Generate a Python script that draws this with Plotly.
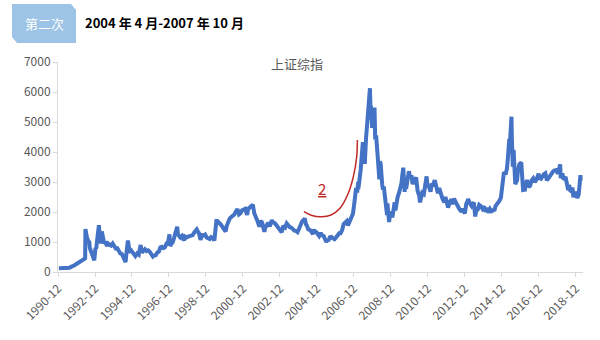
import plotly.graph_objects as go

# Shanghai Composite (上证综指) closing levels, irregularly sampled
dates = [
    "1990-12-19", "1991-01-15", "1991-02-15", "1991-03-15", "1991-04-15", "1991-05-15", "1991-06-15",
    "1991-07-15", "1991-08-15", "1991-09-15", "1991-10-15", "1991-11-15", "1991-12-15",
    "1992-01-15", "1992-02-15", "1992-03-15", "1992-04-15", "1992-05-20", "1992-05-26", "1992-06-10",
    "1992-06-25", "1992-07-15", "1992-08-10", "1992-08-20", "1992-09-15", "1992-10-15", "1992-11-17",
    "1992-12-10", "1992-12-25", "1993-01-15", "1993-02-16", "1993-03-05", "1993-03-31", "1993-04-15",
    "1993-05-05", "1993-05-31", "1993-06-15", "1993-07-10", "1993-07-31", "1993-08-15", "1993-09-15",
    "1993-10-15", "1993-11-15", "1993-12-15", "1994-01-15", "1994-02-15", "1994-03-15", "1994-04-15",
    "1994-05-15", "1994-06-15", "1994-07-29", "1994-08-15", "1994-09-13", "1994-10-05", "1994-10-25",
    "1994-11-15", "1994-12-15", "1995-01-15", "1995-02-07", "1995-03-15", "1995-04-15", "1995-05-22",
    "1995-06-15", "1995-07-15", "1995-08-15", "1995-09-15", "1995-10-15", "1995-11-15", "1995-12-15",
    "1996-01-19", "1996-02-15", "1996-03-15", "1996-04-15", "1996-05-15", "1996-06-15", "1996-07-15",
    "1996-08-15", "1996-09-15", "1996-10-15", "1996-11-15", "1996-12-11", "1996-12-24", "1997-01-15",
    "1997-02-15", "1997-03-15", "1997-04-15", "1997-05-12", "1997-05-30", "1997-06-15", "1997-07-15",
    "1997-08-15", "1997-09-23", "1997-10-15", "1997-11-15", "1997-12-15", "1998-01-15", "1998-02-15",
    "1998-03-15", "1998-04-15", "1998-06-03", "1998-06-30", "1998-07-15", "1998-08-17", "1998-09-15",
    "1998-10-15", "1998-11-15", "1998-12-15", "1999-01-15", "1999-02-15", "1999-03-15", "1999-04-15",
    "1999-05-17", "1999-05-31", "1999-06-30", "1999-07-15", "1999-08-15", "1999-09-15", "1999-10-15",
    "1999-11-15", "1999-12-27", "2000-01-15", "2000-02-15", "2000-03-15", "2000-04-15", "2000-05-15",
    "2000-06-15", "2000-07-15", "2000-08-15", "2000-09-15", "2000-10-15", "2000-11-15", "2000-12-15",
    "2001-01-15", "2001-02-22", "2001-03-15", "2001-04-15", "2001-05-15", "2001-06-14", "2001-07-15",
    "2001-08-15", "2001-09-15", "2001-10-22", "2001-11-15", "2001-12-15", "2002-01-29", "2002-02-15",
    "2002-03-15", "2002-04-15", "2002-05-15", "2002-06-25", "2002-07-15", "2002-08-15", "2002-09-15",
    "2002-10-15", "2002-11-15", "2002-12-15", "2003-01-06", "2003-01-31", "2003-02-15", "2003-03-15",
    "2003-04-15", "2003-05-15", "2003-06-15", "2003-07-15", "2003-08-15", "2003-09-15", "2003-10-15",
    "2003-11-15", "2003-12-15", "2004-01-15", "2004-02-15", "2004-03-15", "2004-04-07", "2004-04-30",
    "2004-05-15", "2004-06-15", "2004-07-15", "2004-08-15", "2004-09-13", "2004-09-28", "2004-10-15",
    "2004-11-15", "2004-12-15", "2005-01-15", "2005-02-15", "2005-03-15", "2005-04-15", "2005-05-15",
    "2005-06-06", "2005-06-30", "2005-07-15", "2005-08-15", "2005-09-15", "2005-10-15", "2005-11-15",
    "2005-12-15", "2006-01-15", "2006-02-15", "2006-03-15", "2006-04-15", "2006-05-15", "2006-06-15",
    "2006-07-15", "2006-08-08", "2006-08-31", "2006-09-15", "2006-10-15", "2006-11-15", "2006-12-15",
    "2006-12-31", "2007-01-15", "2007-02-05", "2007-02-26", "2007-02-27", "2007-03-15", "2007-04-15",
    "2007-05-29", "2007-06-05", "2007-06-20", "2007-07-06", "2007-07-31", "2007-08-15", "2007-08-31",
    "2007-09-15", "2007-09-28", "2007-10-16", "2007-10-25", "2007-11-05", "2007-11-28", "2007-12-15",
    "2008-01-14", "2008-01-28", "2008-02-15", "2008-03-15", "2008-04-18", "2008-04-30", "2008-05-15",
    "2008-06-15", "2008-06-30", "2008-07-15", "2008-08-15", "2008-09-18", "2008-09-26", "2008-10-15",
    "2008-10-28", "2008-11-15", "2008-12-15", "2008-12-31", "2009-01-15", "2009-02-15", "2009-03-03",
    "2009-03-31", "2009-04-15", "2009-05-15", "2009-06-15", "2009-06-30", "2009-07-15", "2009-08-04",
    "2009-08-31", "2009-09-15", "2009-09-30", "2009-10-15", "2009-11-24", "2009-12-15", "2010-01-15",
    "2010-02-03", "2010-03-15", "2010-04-15", "2010-05-15", "2010-06-15", "2010-07-02", "2010-07-30",
    "2010-08-15", "2010-09-15", "2010-10-15", "2010-11-08", "2010-11-30", "2010-12-15", "2010-12-31",
    "2011-01-25", "2011-02-15", "2011-03-15", "2011-04-18", "2011-05-15", "2011-06-20", "2011-07-15",
    "2011-08-15", "2011-09-15", "2011-10-24", "2011-11-15", "2011-12-31", "2012-01-06", "2012-02-15",
    "2012-03-15", "2012-03-29", "2012-05-04", "2012-06-15", "2012-07-15", "2012-08-15", "2012-09-26",
    "2012-10-15", "2012-12-03", "2012-12-31", "2013-01-31", "2013-02-06", "2013-03-15", "2013-04-15",
    "2013-05-29", "2013-06-25", "2013-07-15", "2013-08-15", "2013-09-12", "2013-10-15", "2013-11-15",
    "2013-12-15", "2014-01-15", "2014-02-15", "2014-03-12", "2014-04-15", "2014-05-15", "2014-06-15",
    "2014-07-15", "2014-07-31", "2014-08-15", "2014-09-15", "2014-10-15", "2014-11-15", "2014-12-15",
    "2014-12-31", "2015-01-15", "2015-02-15", "2015-03-15", "2015-03-31", "2015-04-15", "2015-04-30",
    "2015-05-07", "2015-05-28", "2015-06-12", "2015-06-19", "2015-06-26", "2015-07-08", "2015-07-24",
    "2015-07-31", "2015-08-18", "2015-08-26", "2015-09-15", "2015-09-30", "2015-10-15", "2015-11-15",
    "2015-12-22", "2016-01-07", "2016-01-27", "2016-02-15", "2016-02-29", "2016-03-15", "2016-04-15",
    "2016-05-15", "2016-06-15", "2016-07-15", "2016-08-15", "2016-09-15", "2016-10-15", "2016-11-29",
    "2016-12-15", "2017-01-15", "2017-02-15", "2017-03-15", "2017-04-11", "2017-05-11", "2017-06-15",
    "2017-07-15", "2017-08-15", "2017-09-15", "2017-10-15", "2017-11-15", "2017-12-15", "2018-01-29",
    "2018-02-09", "2018-02-28", "2018-03-15", "2018-03-26", "2018-04-15", "2018-05-15", "2018-06-20",
    "2018-07-06", "2018-07-25", "2018-08-15", "2018-09-15", "2018-09-28", "2018-10-18", "2018-11-15",
    "2018-12-15", "2019-01-03", "2019-01-31", "2019-02-25", "2019-03-05", "2019-03-10",
]
close = [
    127, 130, 133, 125, 112, 110, 120,
    140, 170, 185, 215, 250, 285,
    300, 340, 370, 420, 450, 1429, 1200,
    1150, 1050, 1000, 800, 700, 600, 390,
    800, 780, 1100, 1558, 1200, 950, 1350,
    1100, 950, 1000, 900, 870, 950, 900,
    880, 950, 860, 780, 790, 700, 620,
    600, 500, 330, 650, 1052, 800, 700,
    720, 650, 580, 530, 620, 580, 900,
    650, 700, 760, 700, 720, 680, 580,
    515, 550, 560, 650, 680, 820, 840,
    800, 830, 950, 1000, 1258, 870, 930,
    1000, 1150, 1330, 1510, 1250, 1200, 1150,
    1200, 1050, 1180, 1150, 1180, 1200, 1190,
    1230, 1320, 1420, 1330, 1300, 1070, 1230,
    1220, 1250, 1150, 1130, 1100, 1160, 1130,
    1050, 1280, 1756, 1620, 1650, 1600, 1520,
    1470, 1350, 1530, 1700, 1780, 1830, 1880,
    1920, 2020, 2100, 1920, 1960, 2060, 2080,
    2110, 1900, 2100, 2150, 2210, 2245, 1950,
    1850, 1700, 1514, 1700, 1650, 1340, 1480,
    1580, 1640, 1520, 1730, 1650, 1640, 1580,
    1510, 1440, 1360, 1320, 1500, 1510, 1480,
    1620, 1560, 1490, 1480, 1420, 1380, 1370,
    1330, 1440, 1580, 1690, 1740, 1783, 1590,
    1560, 1420, 1400, 1340, 1260, 1420, 1350,
    1340, 1280, 1200, 1300, 1220, 1200, 1080,
    998, 1080, 1030, 1160, 1170, 1120, 1090,
    1150, 1220, 1290, 1290, 1400, 1600, 1650,
    1700, 1550, 1660, 1720, 1820, 1950, 2350,
    2675, 2800, 2650, 3000, 2770, 2950, 3400,
    4330, 3670, 4300, 3600, 4470, 4800, 5220,
    5300, 5550, 6124, 5560, 5500, 4800, 5100,
    5480, 4420, 4550, 3900, 3090, 3690, 3600,
    2900, 2740, 2850, 2430, 1900, 2290, 1990,
    1664, 1900, 2000, 1820, 1950, 2320, 2050,
    2370, 2500, 2650, 2850, 2960, 3200, 3478,
    2670, 2950, 2780, 3000, 3360, 3150, 3220,
    2930, 3050, 3150, 2700, 2550, 2320, 2640,
    2640, 2600, 2970, 3186, 2820, 2900, 2810,
    2680, 2900, 2900, 3060, 2860, 2620, 2800,
    2600, 2460, 2320, 2500, 2200, 2150, 2350,
    2420, 2260, 2450, 2300, 2170, 2100, 2005,
    2110, 1950, 2270, 2390, 2430, 2280, 2200,
    2320, 1850, 2040, 2080, 2240, 2200, 2110,
    2190, 2010, 2140, 1975, 2100, 2030, 2070,
    2080, 2200, 2230, 2340, 2370, 2480, 2950,
    3230, 3330, 3250, 3450, 3750, 4130, 4440,
    4110, 4620, 5178, 4480, 4190, 3510, 4070,
    3660, 3750, 2930, 3010, 3050, 3340, 3600,
    3650, 3120, 2740, 2750, 2690, 2860, 3070,
    2830, 2880, 3050, 3120, 3000, 3070, 3280,
    3130, 3110, 3220, 3260, 3290, 3060, 3130,
    3220, 3250, 3360, 3390, 3400, 3270, 3587,
    3130, 3260, 3290, 3130, 3110, 3170, 2880,
    2730, 2900, 2720, 2680, 2820, 2490, 2670,
    2580, 2465, 2590, 3000, 3230, 3050,
]

# Hand-drawn bracket marking the 2004-04 to 2007-10 bull run
arc_dates = ["2004-03-20", "2004-08-25", "2005-03-10", "2005-09-05", "2006-03-03",
             "2006-08-14", "2006-11-22", "2007-01-27", "2007-02-09"]
arc_values = [2010, 1883, 1843, 1900, 2123, 2623, 3177, 3843, 4400]
arc_label = "2"
arc_label_date = "2005-03-10"
arc_label_value = 2767

tick_dates = [f"{y}-12-01" for y in range(1990, 2019, 2)]
tick_text = [f"{y}-12" for y in range(1990, 2019, 2)]

chart_title = "上证综指"
badge_text = "第二次"
period_text = "2004 年 4 月-2007 年 10 月"

W, H = 600, 340
L, R, T, B = 58, 17, 62, 68
PW, PH = W - L - R, H - T - B


def px(x):
    return (x - L) / PW


def py(y):
    return (H - B - y) / PH


LINE_BLUE = "rgb(68,114,196)"
ARC_RED = "rgb(192,40,40)"
GREY_TEXT = "#595959"
AXIS_GREY = "#D9D9D9"
FONT = "Noto Sans CJK SC"

fig = go.Figure()
fig.add_trace(go.Scatter(
    x=dates, y=close, mode="lines",
    line=dict(color=LINE_BLUE, width=4),
    hoverinfo="skip", showlegend=False,
))
fig.add_trace(go.Scatter(
    x=arc_dates, y=arc_values, mode="lines",
    line=dict(color=ARC_RED, width=1.5, shape="spline", smoothing=1.0),
    hoverinfo="skip", showlegend=False,
))

fig.add_annotation(
    x=arc_label_date, y=arc_label_value, xref="x", yref="y",
    text=f"<span style='text-decoration:underline'>{arc_label}</span>",
    showarrow=False, font=dict(family=FONT, size=15, color=ARC_RED),
)

# badge with clipped corners
badge = [(12, 4), (71, 4), (76, 10), (76, 43), (17, 43), (12, 37)]
path = "M " + " L ".join(f"{px(a):.5f},{py(b):.5f}" for a, b in badge) + " Z"
fig.add_shape(type="path", xref="paper", yref="paper", path=path,
              fillcolor="rgb(157,195,230)", line=dict(width=0), layer="above")
fig.add_annotation(x=px(44), y=py(23), xref="paper", yref="paper", text=badge_text,
                   showarrow=False, xanchor="center", yanchor="middle",
                   font=dict(family=FONT, size=13, color="white"))
fig.add_annotation(x=px(83), y=py(22), xref="paper", yref="paper", text=f"<b>{period_text}</b>",
                   showarrow=False, xanchor="left", yanchor="middle",
                   font=dict(family=FONT, size=13, color="black"))
fig.add_annotation(x=px(297), y=py(63), xref="paper", yref="paper", text=chart_title,
                   showarrow=False, xanchor="center", yanchor="middle",
                   font=dict(family=FONT, size=13, color=GREY_TEXT))

fig.update_layout(
    width=W, height=H,
    margin=dict(l=L, r=R, t=T, b=B),
    paper_bgcolor="white", plot_bgcolor="white",
    font=dict(family=FONT, color=GREY_TEXT, size=12),
    showlegend=False,
)
fig.update_xaxes(
    type="date", range=["1990-12-01", "2019-04-25"],
    tickmode="array", tickvals=tick_dates, ticktext=tick_text, tickangle=-45,
    showgrid=False, zeroline=False, showline=True, linecolor=AXIS_GREY, linewidth=1,
    ticks="outside", ticklen=4, tickcolor=AXIS_GREY,
    tickfont=dict(family=FONT, size=12, color=GREY_TEXT),
)
fig.update_yaxes(
    range=[0, 7000], dtick=1000, tick0=0,
    showgrid=False, zeroline=False, showline=True, linecolor=AXIS_GREY, linewidth=1,
    ticks="outside", ticklen=4, tickcolor=AXIS_GREY,
    tickfont=dict(family=FONT, size=12, color=GREY_TEXT),
)

fig.write_html("out.html")
